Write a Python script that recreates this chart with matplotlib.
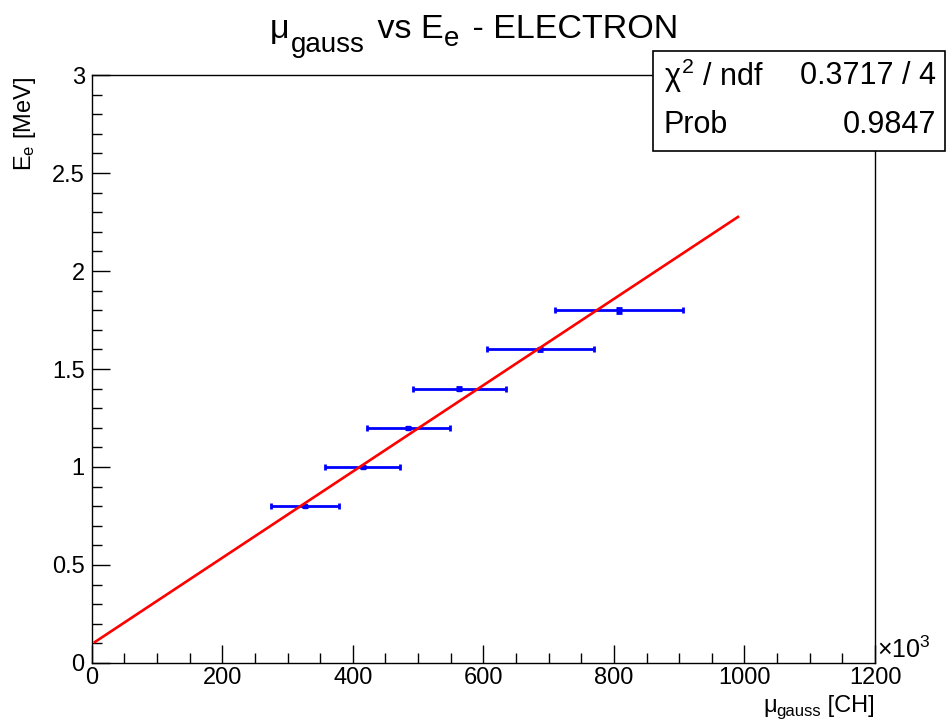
import matplotlib
matplotlib.use("Agg")
import matplotlib.pyplot as plt
from matplotlib.ticker import MultipleLocator
from matplotlib.patches import Rectangle

plt.rcParams['font.family'] = ['Liberation Sans', 'DejaVu Sans']
plt.rcParams['mathtext.fontset'] = 'custom'
plt.rcParams['mathtext.rm'] = 'Liberation Sans'
plt.rcParams['mathtext.it'] = 'Liberation Sans'
plt.rcParams['mathtext.sf'] = 'Liberation Sans'

W, H = 946, 720

# data points (x in units of 10^3 CH)
energy = [0.8, 1.0, 1.2, 1.4, 1.6, 1.8]
energy_err = [0.002, 0.003, 0.006, 0.008, 0.007, 0.012]
mu_gauss = [327, 415, 485, 563, 687, 808]
mu_err = [52, 58, 64, 71, 82, 98]

# fitted line end points
fit_x = [5, 990]
fit_y = [0.107, 2.276]


def px(x, y):
    # pixel position (from top-left) -> figure fraction
    return x / W, 1 - y / H


fig = plt.figure(figsize=(W / 100, H / 100), dpi=100)
renderer = fig.canvas.get_renderer()


def text_run(x0, pieces):
    # pieces: (string, baseline_px, fontsize, gap_after); placed left to right
    x = x0
    for s, base, size, gap in pieces:
        t = fig.text(*px(x, base), s, ha='left', va='baseline', fontsize=size)
        x += t.get_window_extent(renderer).width + gap
    return x


ax = fig.add_axes([0.0969, 0.0792, 0.8281, 0.8166])

ax.plot(fit_x, fit_y, color='red', lw=1.9, zorder=3)
ax.errorbar(mu_gauss, energy, xerr=mu_err, yerr=energy_err, fmt='s',
            color='blue', ms=3, lw=2.0, capsize=2.5, capthick=2.0, zorder=2)

ax.set_xlim(0, 1200)
ax.set_ylim(0, 3)
ax.xaxis.set_major_locator(MultipleLocator(200))
ax.xaxis.set_minor_locator(MultipleLocator(50))
ax.yaxis.set_major_locator(MultipleLocator(0.5))
ax.yaxis.set_minor_locator(MultipleLocator(0.1))
ax.yaxis.set_major_formatter(matplotlib.ticker.FuncFormatter(lambda v, p: f"{v:g}"))
ax.tick_params(which='both', direction='in', top=False, right=False, labelsize=17)
ax.tick_params(which='major', length=13, width=1)
ax.tick_params(which='minor', length=7, width=1)
ax.tick_params(axis='x', pad=3)
ax.tick_params(axis='y', pad=5)
for s in ax.spines.values():
    s.set_linewidth(1)

# x axis label (ROOT style, right aligned under the axis end)
text_run(763, [('\u03bc', 712, 17, 0), ('gauss', 716, 12, 0), (' [CH]', 712, 17, 0)])

# y axis label
fig.text(0.026, 0.893, r'E$_{\mathrm{e}}$ [MeV]', rotation=90,
         ha='center', va='top', fontsize=17)

ax.text(1.002, 0.0, r'$\times$10$^{3}$', transform=ax.transAxes,
        ha='left', va='bottom', fontsize=18)

# title with big, lowered subscripts like the ROOT latex
text_run(270, [('\u03bc', 38, 24.5, 1), ('gauss', 52, 20, 3), (' vs E', 38, 24.5, 1),
               ('e', 46, 20, 3), (' - ELECTRON', 38, 24.5, 0)])

# stats box
box = Rectangle(px(653, 151), (945 - 653) / W, 100 / H,
                transform=fig.transFigure, facecolor='white', edgecolor='black',
                lw=1.2, zorder=5)
fig.patches.append(box)
fig.text(*px(664, 76), r'$\chi^{2}$ / ndf', ha='left', va='center',
         fontsize=22, zorder=6)
fig.text(*px(936, 76), '0.3717 / 4', ha='right', va='center',
         fontsize=22, zorder=6)
fig.text(*px(664, 125), 'Prob', ha='left', va='center',
         fontsize=22, zorder=6)
fig.text(*px(936, 125), '0.9847', ha='right', va='center',
         fontsize=22, zorder=6)

fig.savefig('out.png', dpi=100)
